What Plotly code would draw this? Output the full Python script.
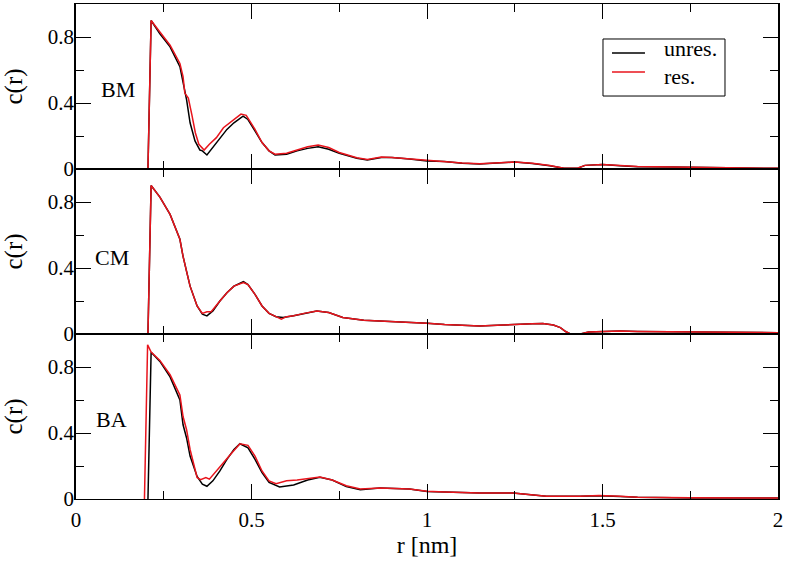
import plotly.graph_objects as go
from plotly.subplots import make_subplots

# ---- data ----
panel_names = ["BM", "CM", "BA"]

bm_unres_r = [0.205, 0.214, 0.239, 0.268, 0.296, 0.305, 0.315, 0.325, 0.339, 0.353, 0.36, 0.373, 0.39, 0.41, 0.43, 0.45, 0.476, 0.49, 0.51, 0.53, 0.55, 0.567, 0.6, 0.63, 0.66, 0.69, 0.72, 0.75, 0.8, 0.83, 0.87, 0.9, 0.95, 1.0, 1.05, 1.1, 1.15, 1.2, 1.25, 1.3, 1.35, 1.39, 1.43, 1.45, 1.5, 1.55, 1.6, 1.7, 1.8, 1.9, 2.0]
bm_unres_c = [0.0, 0.90, 0.82, 0.74, 0.62, 0.52, 0.42, 0.28, 0.17, 0.115, 0.11, 0.085, 0.13, 0.18, 0.24, 0.28, 0.32, 0.30, 0.23, 0.16, 0.11, 0.085, 0.09, 0.11, 0.125, 0.135, 0.12, 0.095, 0.065, 0.055, 0.07, 0.07, 0.06, 0.048, 0.045, 0.035, 0.03, 0.035, 0.042, 0.034, 0.02, 0.004, 0.005, 0.022, 0.028, 0.02, 0.014, 0.012, 0.008, 0.006, 0.004]
bm_res_r = [0.205, 0.214, 0.239, 0.268, 0.296, 0.305, 0.31, 0.32, 0.33, 0.34, 0.35, 0.365, 0.38, 0.40, 0.42, 0.45, 0.47, 0.485, 0.51, 0.53, 0.55, 0.567, 0.6, 0.63, 0.66, 0.69, 0.72, 0.75, 0.8, 0.83, 0.87, 0.9, 0.95, 1.0, 1.05, 1.1, 1.15, 1.2, 1.25, 1.3, 1.35, 1.39, 1.43, 1.45, 1.5, 1.55, 1.6, 1.7, 1.8, 1.9, 2.0]
bm_res_c = [0.0, 0.90, 0.83, 0.75, 0.64, 0.56, 0.46, 0.43, 0.33, 0.22, 0.15, 0.115, 0.15, 0.19, 0.25, 0.30, 0.333, 0.325, 0.24, 0.16, 0.11, 0.09, 0.095, 0.115, 0.135, 0.145, 0.13, 0.10, 0.068, 0.058, 0.072, 0.07, 0.062, 0.05, 0.046, 0.037, 0.032, 0.036, 0.043, 0.035, 0.021, 0.005, 0.006, 0.022, 0.028, 0.021, 0.015, 0.012, 0.009, 0.006, 0.004]

cm_unres_r = [0.205, 0.214, 0.239, 0.268, 0.296, 0.305, 0.315, 0.325, 0.345, 0.36, 0.373, 0.39, 0.41, 0.43, 0.45, 0.477, 0.49, 0.51, 0.53, 0.55, 0.57, 0.59, 0.62, 0.65, 0.686, 0.72, 0.76, 0.82, 0.87, 0.95, 1.0, 1.05, 1.1, 1.15, 1.2, 1.245, 1.3, 1.33, 1.36, 1.38, 1.395, 1.407, 1.44, 1.46, 1.49, 1.55, 1.6, 1.7, 1.8, 1.9, 2.0]
cm_unres_c = [0.0, 0.90, 0.83, 0.725, 0.574, 0.47, 0.38, 0.29, 0.17, 0.12, 0.11, 0.14, 0.20, 0.25, 0.29, 0.317, 0.30, 0.24, 0.17, 0.125, 0.105, 0.10, 0.11, 0.125, 0.14, 0.13, 0.10, 0.083, 0.079, 0.072, 0.065, 0.058, 0.052, 0.049, 0.053, 0.059, 0.062, 0.063, 0.055, 0.039, 0.015, 0.002, 0.002, 0.012, 0.015, 0.018, 0.015, 0.013, 0.010, 0.008, 0.008]
cm_res_r = [0.205, 0.214, 0.239, 0.268, 0.296, 0.305, 0.315, 0.325, 0.345, 0.36, 0.373, 0.385, 0.41, 0.43, 0.45, 0.477, 0.49, 0.51, 0.53, 0.55, 0.57, 0.585, 0.6, 0.62, 0.65, 0.686, 0.72, 0.76, 0.82, 0.87, 0.95, 1.0, 1.05, 1.1, 1.15, 1.2, 1.245, 1.3, 1.33, 1.36, 1.38, 1.395, 1.407, 1.44, 1.46, 1.49, 1.55, 1.6, 1.7, 1.8, 1.9, 2.0]
cm_res_c = [0.0, 0.90, 0.83, 0.725, 0.574, 0.47, 0.38, 0.29, 0.17, 0.125, 0.135, 0.135, 0.20, 0.25, 0.29, 0.312, 0.30, 0.24, 0.17, 0.125, 0.105, 0.09, 0.105, 0.11, 0.125, 0.14, 0.13, 0.10, 0.083, 0.079, 0.073, 0.065, 0.058, 0.053, 0.049, 0.053, 0.059, 0.062, 0.063, 0.055, 0.039, 0.015, 0.002, 0.002, 0.012, 0.015, 0.018, 0.015, 0.013, 0.010, 0.008, 0.008]

ba_unres_r = [0.205, 0.214, 0.239, 0.268, 0.296, 0.305, 0.315, 0.325, 0.345, 0.36, 0.373, 0.39, 0.41, 0.43, 0.45, 0.467, 0.49, 0.51, 0.53, 0.55, 0.58, 0.62, 0.66, 0.695, 0.73, 0.77, 0.81, 0.866, 0.95, 1.0, 1.05, 1.1, 1.15, 1.245, 1.3, 1.34, 1.436, 1.49, 1.55, 1.6, 1.75, 2.0]
ba_unres_c = [0.0, 0.89, 0.834, 0.74, 0.60, 0.45, 0.37, 0.26, 0.137, 0.09, 0.077, 0.11, 0.17, 0.24, 0.30, 0.335, 0.31, 0.24, 0.16, 0.10, 0.073, 0.085, 0.115, 0.131, 0.115, 0.075, 0.056, 0.067, 0.06, 0.046, 0.042, 0.038, 0.036, 0.036, 0.025, 0.016, 0.016, 0.02, 0.015, 0.01, 0.006, 0.006]
ba_res_r = [0.195, 0.204, 0.214, 0.239, 0.268, 0.296, 0.305, 0.315, 0.325, 0.345, 0.355, 0.37, 0.38, 0.395, 0.42, 0.44, 0.467, 0.49, 0.51, 0.53, 0.55, 0.57, 0.6, 0.63, 0.66, 0.695, 0.73, 0.77, 0.81, 0.866, 0.95, 1.0, 1.05, 1.1, 1.15, 1.245, 1.3, 1.34, 1.436, 1.49, 1.55, 1.6, 1.75, 2.0]
ba_res_c = [0.0, 0.935, 0.89, 0.84, 0.753, 0.63, 0.50, 0.42, 0.30, 0.13, 0.117, 0.13, 0.12, 0.16, 0.22, 0.27, 0.335, 0.325, 0.26, 0.17, 0.11, 0.093, 0.11, 0.115, 0.125, 0.133, 0.115, 0.08, 0.06, 0.067, 0.061, 0.047, 0.043, 0.039, 0.037, 0.037, 0.026, 0.017, 0.017, 0.021, 0.016, 0.011, 0.007, 0.006]

series = [
    (bm_unres_r, bm_unres_c, bm_res_r, bm_res_c),
    (cm_unres_r, cm_unres_c, cm_res_r, cm_res_c),
    (ba_unres_r, ba_unres_c, ba_res_r, ba_res_c),
]
legend_names = ["unres.", "res."]
line_colors = ["black", "#e8141c"]
x_tickvals = [0, 0.5, 1, 1.5, 2]
y_tickvals = [0, 0.4, 0.8]
label_pos = [(0.12, 0.48), (0.103, 0.465), (0.10, 0.48)]

FONT = "Liberation Serif, Times New Roman, serif"

fig = make_subplots(rows=3, cols=1, shared_xaxes=True, vertical_spacing=0)

for i, (ur, uc, rr, rc) in enumerate(series):
    row = i + 1
    fig.add_trace(go.Scatter(x=ur, y=uc, mode="lines", name=legend_names[0],
                             line=dict(color=line_colors[0], width=1.5), showlegend=False), row=row, col=1)
    fig.add_trace(go.Scatter(x=rr, y=rc, mode="lines", name=legend_names[1],
                             line=dict(color=line_colors[1], width=1.5), showlegend=False), row=row, col=1)
    fig.add_annotation(x=label_pos[i][0], y=label_pos[i][1], text=panel_names[i],
                       showarrow=False, font=dict(size=22, family=FONT, color="black"),
                       xref=f"x{'' if row == 1 else row}", yref=f"y{'' if row == 1 else row}")

# legend box drawn in paper coordinates
fig.add_shape(type="rect", xref="paper", yref="paper", x0=0.7507, x1=0.9245, y0=0.8141, y1=0.9293,
              line=dict(color="black", width=1), fillcolor="white", layer="above")
legend_rows_y = [0.901, 0.8626]
legend_text_y = [0.8828, 0.8808]
legend_text_anchor = ["bottom", "top"]
for k in range(2):
    fig.add_shape(type="line", xref="paper", yref="paper", x0=0.7635, x1=0.8105,
                  y0=legend_rows_y[k], y1=legend_rows_y[k],
                  line=dict(color=line_colors[k], width=1.5), layer="above")
    fig.add_annotation(xref="paper", yref="paper", x=0.8362, y=legend_text_y[k],
                       xanchor="left", yanchor=legend_text_anchor[k], text=legend_names[k],
                       showarrow=False, borderpad=0,
                       font=dict(size=22, family=FONT, color="black"))

fig.update_xaxes(range=[0, 2], tickvals=x_tickvals, ticks="inside", ticklen=15, tickwidth=1.3,
                 tickcolor="black", showline=True, linecolor="black", linewidth=1, mirror="allticks",
                 minor=dict(dtick=0.25, ticks="inside", ticklen=8, tickwidth=1.3, tickcolor="black"),
                 showgrid=False, zeroline=False, automargin=False, ticklabelstandoff=2,
                 tickfont=dict(size=21, family=FONT, color="black"))
fig.update_xaxes(showticklabels=False, row=1, col=1)
fig.update_xaxes(showticklabels=False, row=2, col=1)
fig.update_xaxes(title=dict(text="r [nm]", font=dict(size=24, family=FONT, color="black"), standoff=3), row=3, col=1)

fig.update_yaxes(range=[0, 1.0], tickvals=y_tickvals, ticks="inside", ticklen=15, tickwidth=1.3,
                 tickcolor="black", showline=True, linecolor="black", linewidth=1.5, mirror="allticks",
                 minor=dict(dtick=0.2, ticks="inside", ticklen=8, tickwidth=1.3, tickcolor="black"),
                 showgrid=False, zeroline=False, automargin=False, ticklabelstandoff=-4,
                 tickfont=dict(size=21, family=FONT, color="black"),
                 title=dict(text="c(r)", font=dict(size=25, family=FONT, color="black"), standoff=25))

fig.update_layout(
    width=786, height=563,
    margin=dict(l=76, r=8, t=4, b=64),
    paper_bgcolor="white", plot_bgcolor="white",
    font=dict(family=FONT, color="black"),
    showlegend=False,
)

fig.write_html("out.html", config={"displayModeBar": False},
               post_script="document.body.style.margin='0px';")
